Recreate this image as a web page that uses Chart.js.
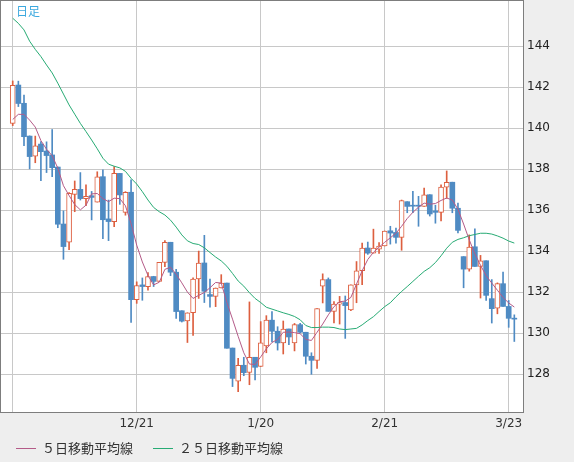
<!DOCTYPE html>
<html>
<head>
<meta charset="utf-8">
<script src="https://cdn.jsdelivr.net/npm/chart.js@4.4.1/dist/chart.umd.min.js"></script>
<style>
  html, body { margin: 0; padding: 0; background: #eeeeee; }
  canvas { display: block; }
</style>
</head>
<body>
<canvas id="candleChart" width="574" height="462"></canvas>
<script>
// 日足 candles, oldest first
const opens = [
  140.24, 142.11, 141.22, 139.62, 138.64, 139.23, 138.89, 138.70, 138.11, 135.33,
  134.44, 136.78, 137.02, 136.57, 136.71, 136.40, 137.64, 135.58, 135.45, 137.80,
  135.90, 136.88, 131.64, 132.36, 132.28, 132.77, 132.53, 133.46, 134.44, 132.98,
  131.10, 130.60, 131.00, 132.65, 133.43, 131.89, 131.80, 132.21, 132.45, 129.28,
  127.66, 128.44, 128.09, 128.83, 128.38, 129.38, 130.64, 130.10, 129.53, 130.21,
  129.53, 130.42, 130.05, 128.88, 128.68, 132.30, 132.62, 131.07, 131.42, 131.50,
  131.14, 132.36, 133.05, 134.16, 133.91, 134.10, 134.26, 135.00, 134.92, 134.68,
  136.42, 136.24, 136.22, 136.19, 136.76, 135.97, 135.90, 137.13, 137.37, 136.10,
  133.74, 133.13, 134.22, 133.26, 133.54, 131.69, 131.22, 132.42, 131.31, 130.73
];
const highs = [
  142.31, 142.30, 141.62, 139.63, 139.62, 139.35, 139.34, 139.94, 138.11, 135.97,
  136.86, 137.43, 137.84, 137.24, 136.92, 137.88, 137.97, 136.50, 138.13, 137.80,
  136.91, 137.48, 132.51, 132.70, 132.96, 132.78, 133.46, 134.52, 134.44, 133.12,
  131.10, 131.00, 132.70, 134.01, 134.78, 132.65, 132.21, 132.86, 132.45, 129.28,
  128.78, 128.83, 131.53, 128.83, 130.57, 130.86, 131.06, 130.32, 130.60, 130.21,
  130.48, 130.48, 130.05, 129.05, 131.20, 132.90, 132.70, 131.55, 131.80, 131.82,
  132.36, 133.50, 134.40, 134.45, 135.08, 134.42, 134.99, 135.22, 135.13, 136.50,
  136.42, 136.92, 136.68, 137.08, 136.76, 136.25, 137.24, 137.92, 137.37, 136.35,
  133.74, 134.80, 135.09, 133.80, 133.54, 132.62, 132.46, 132.98, 131.60, 130.90
];
const lows = [
  140.13, 141.06, 139.15, 138.02, 138.32, 137.45, 137.84, 137.64, 135.15, 133.61,
  134.08, 135.93, 136.50, 136.23, 135.53, 136.40, 134.62, 134.52, 135.20, 136.29,
  135.76, 130.53, 131.46, 131.61, 132.10, 132.28, 132.53, 133.25, 132.81, 130.72,
  130.55, 129.55, 129.90, 131.70, 131.50, 131.27, 131.30, 132.21, 129.27, 127.40,
  127.15, 127.93, 127.49, 127.72, 128.38, 129.05, 129.58, 129.18, 128.99, 129.45,
  129.14, 130.02, 128.50, 128.00, 128.28, 131.48, 131.07, 130.50, 130.45, 129.75,
  131.10, 131.49, 132.37, 133.85, 133.91, 133.90, 134.26, 134.35, 134.40, 134.05,
  135.88, 135.88, 135.22, 136.19, 135.72, 135.37, 135.48, 136.58, 135.88, 134.90,
  132.22, 133.03, 133.26, 131.72, 131.60, 130.50, 130.95, 131.31, 130.29, 129.60
];
const closes = [
  142.10, 141.21, 139.59, 138.62, 139.14, 138.86, 138.67, 138.08, 135.32, 134.23,
  136.83, 137.02, 136.57, 136.68, 136.63, 137.63, 135.54, 135.45, 137.80, 136.75,
  136.88, 131.64, 132.33, 132.28, 132.77, 132.53, 133.46, 134.44, 132.98, 131.06,
  130.59, 131.00, 132.65, 133.43, 132.05, 131.80, 132.21, 132.45, 129.27, 127.80,
  128.44, 128.08, 128.83, 128.34, 129.53, 130.64, 130.10, 129.53, 130.21, 129.82,
  130.42, 130.05, 128.88, 128.68, 131.20, 132.62, 131.07, 131.43, 131.50, 131.35,
  132.36, 133.05, 134.16, 133.91, 134.16, 134.26, 134.99, 134.89, 134.68, 136.47,
  136.19, 136.20, 136.20, 136.76, 135.82, 135.90, 137.13, 137.37, 136.10, 135.02,
  133.13, 134.21, 133.26, 133.54, 131.85, 131.20, 132.42, 131.31, 130.73, 130.69
];

// moving averages as drawn on the chart
const ma5 = [
  140.43, 140.68, 140.68, 140.40, 140.06, 139.40, 138.98, 138.66, 138.06, 137.20,
  136.72, 136.28, 136.02, 136.25, 136.80, 136.82, 136.57, 136.42, 136.59, 136.57,
  136.22, 135.35, 134.30, 133.48, 132.82, 132.36, 132.49, 133.12, 133.22, 132.88,
  132.46, 132.01, 131.70, 131.85, 131.99, 132.22, 132.48, 132.45, 131.50, 130.69,
  129.85, 129.05, 128.50, 128.48, 128.85, 129.24, 129.55, 129.70, 130.05, 130.06,
  130.03, 129.98, 129.70, 129.65, 130.05, 130.45, 130.90, 131.30, 131.54, 131.57,
  131.75, 132.40, 133.05, 133.60, 133.95, 134.20, 134.44, 134.66, 134.88, 135.22,
  135.60, 135.90, 136.15, 136.35, 136.30, 136.33, 136.48, 136.60, 136.50, 136.05,
  135.33, 134.56, 133.88, 133.32, 132.81, 132.45, 132.10, 131.75, 131.48, 131.28
];
const ma25 = [
  145.37, 145.12, 144.80, 144.25, 143.85, 143.50, 143.09, 142.70, 142.20, 141.67,
  141.14, 140.69, 140.24, 139.84, 139.43, 139.00, 138.54, 138.25, 138.15, 138.07,
  137.90, 137.56, 137.28, 136.91, 136.50, 136.14, 135.93, 135.77, 135.52, 135.18,
  134.80, 134.51, 134.38, 134.33, 134.17, 133.94, 133.72, 133.53, 133.27, 132.92,
  132.55, 132.30, 131.98, 131.70, 131.50, 131.27, 131.18, 131.09, 131.00, 130.92,
  130.82, 130.66, 130.38, 130.28, 130.28, 130.30, 130.30, 130.28, 130.21, 130.18,
  130.21, 130.24, 130.41, 130.62, 130.81, 131.06, 131.30, 131.49, 131.78, 132.04,
  132.28, 132.53, 132.78, 133.02, 133.20, 133.45, 133.78, 134.15, 134.44, 134.58,
  134.66, 134.76, 134.82, 134.88, 134.88, 134.84, 134.75, 134.64, 134.50, 134.40
];

// axis ticks
const xTickIdx = [0, 22, 44, 66, 88];
const xTickLabels = ["", "12/21", "1/20", "2/21", "3/23"];
const yTicks = [128, 130, 132, 134, 136, 138, 140, 142, 144];

const chartTitle = "日足";
const upColor = "#dd5f3f";
const downColor = "#4f8bc3";

const isUp = opens.map((o, i) => closes[i] >= o);
const ohlcIdx = opens.map((_, i) => i);

const framePlugin = {
  id: "frame",
  beforeDraw(chart) {
    const { ctx, chartArea: a } = chart;
    ctx.save();
    ctx.fillStyle = "#eeeeee";
    ctx.fillRect(0, 0, chart.width, chart.height);
    ctx.fillStyle = "#ffffff";
    ctx.fillRect(a.left, a.top, a.right - a.left, a.bottom - a.top);
    ctx.restore();
  },
  afterDraw(chart) {
    const { ctx, chartArea: a } = chart;
    ctx.save();
    ctx.strokeStyle = "#7d7d7d";
    ctx.lineWidth = 1;
    ctx.strokeRect(a.left - 0.5, a.top - 0.5, a.right - a.left + 1, a.bottom - a.top + 1);

    ctx.fillStyle = "#3ba8de";
    ctx.font = '12px "Noto Sans CJK JP"';
    ctx.textBaseline = "middle";
    ctx.fillText(chartTitle, 16, 11);

    // legend for the two averages
    let lx = 16;
    const ly = 448;
    ctx.font = '13px "Noto Sans CJK JP"';
    chart.data.datasets
      .filter((d) => d.type === "line")
      .forEach((d) => {
        ctx.strokeStyle = d.borderColor;
        ctx.beginPath();
        ctx.moveTo(lx, ly + 0.5);
        ctx.lineTo(lx + 20, ly + 0.5);
        ctx.stroke();
        ctx.fillStyle = "#333333";
        ctx.fillText(d.label, lx + 26, ly);
        lx += 26 + ctx.measureText(d.label).width + 20;
      });
    ctx.restore();
  },
};

const ctx = document.getElementById("candleChart").getContext("2d");
new Chart(ctx, {
  type: "bar",
  data: {
    datasets: [
      {
        type: "line",
        label: "５日移動平均線",
        data: ma5.map((v, i) => ({ x: i, y: v })),
        borderColor: "#b45b88",
        borderWidth: 1,
        pointRadius: 0,
        tension: 0,
        order: 0,
      },
      {
        type: "line",
        label: "２５日移動平均線",
        data: ma25.map((v, i) => ({ x: i, y: v })),
        borderColor: "#27ab74",
        borderWidth: 1,
        pointRadius: 0,
        tension: 0,
        order: 0,
      },
      {
        label: "body",
        data: ohlcIdx.map((i) => ({ x: i, y: [opens[i], closes[i]] })),
        backgroundColor: isUp.map((u) => (u ? "#ffffff" : downColor)),
        borderColor: isUp.map((u) => (u ? upColor : downColor)),
        borderWidth: isUp.map((u) => (u ? 1 : 0)),
        borderSkipped: false,
        barThickness: 5,
        minBarLength: 1,
        grouped: false,
        order: 1,
      },
      {
        label: "wick",
        data: ohlcIdx.map((i) => ({ x: i, y: [lows[i], highs[i]] })),
        backgroundColor: isUp.map((u) => (u ? upColor : downColor)),
        borderWidth: 0,
        barThickness: 1,
        grouped: false,
        order: 2,
      },
    ],
  },
  options: {
    responsive: false,
    animation: false,
    layout: { padding: { top: 1, left: 1, right: 0, bottom: 0 } },
    plugins: {
      legend: { display: false },
      tooltip: { enabled: false },
    },
    scales: {
      x: {
        type: "linear",
        min: -2.08,
        max: 90.54,
        offset: false,
        afterBuildTicks: (axis) => {
          axis.ticks = xTickIdx.map((v) => ({ value: v }));
        },
        afterFit: (axis) => {
          axis.height = 50;
          axis.paddingLeft = 0;
          axis.paddingRight = 0;
        },
        grid: { color: "#c8c8c8", drawTicks: false, offset: false },
        border: { display: false },
        ticks: {
          autoSkip: false,
          maxRotation: 0,
          padding: 5,
          color: "#333333",
          font: { family: "DejaVu Sans", size: 12 },
          callback: (value, index) => xTickLabels[index],
        },
      },
      y: {
        type: "linear",
        position: "right",
        min: 126.16,
        max: 146.21,
        afterBuildTicks: (axis) => {
          axis.ticks = yTicks.map((v) => ({ value: v }));
        },
        afterFit: (axis) => {
          axis.width = 51;
          axis.paddingTop = 0;
          axis.paddingBottom = 0;
        },
        grid: { color: "#c8c8c8", drawTicks: false },
        border: { display: false },
        ticks: {
          padding: 4,
          color: "#222222",
          font: { family: "DejaVu Sans", size: 12 },
        },
      },
    },
  },
  plugins: [framePlugin],
});
</script>
</body>
</html>
